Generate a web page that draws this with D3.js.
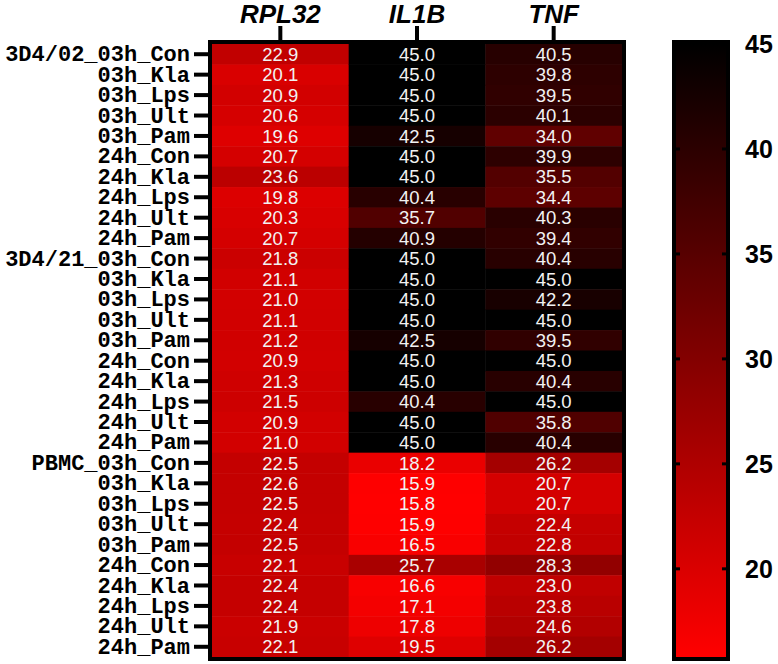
<!DOCTYPE html>
<html>
<head>
<meta charset="utf-8">
<script src="https://cdn.jsdelivr.net/npm/d3@7"></script>
<style>
  body { margin: 0; background: #fff; }
  svg { display: block; }
</style>
</head>
<body>
<svg width="778" height="664"></svg>
<script>
var genes = ["RPL32", "IL1B", "TNF"];

var rowLabels = [
  "3D4/02_03h_Con", "03h_Kla", "03h_Lps", "03h_Ult", "03h_Pam",
  "24h_Con", "24h_Kla", "24h_Lps", "24h_Ult", "24h_Pam",
  "3D4/21_03h_Con", "03h_Kla", "03h_Lps", "03h_Ult", "03h_Pam",
  "24h_Con", "24h_Kla", "24h_Lps", "24h_Ult", "24h_Pam",
  "PBMC_03h_Con", "03h_Kla", "03h_Lps", "03h_Ult", "03h_Pam",
  "24h_Con", "24h_Kla", "24h_Lps", "24h_Ult", "24h_Pam"
];

var rpl32 = [22.9, 20.1, 20.9, 20.6, 19.6, 20.7, 23.6, 19.8, 20.3, 20.7,
             21.8, 21.1, 21.0, 21.1, 21.2, 20.9, 21.3, 21.5, 20.9, 21.0,
             22.5, 22.6, 22.5, 22.4, 22.5, 22.1, 22.4, 22.4, 21.9, 22.1];
var il1b  = [45.0, 45.0, 45.0, 45.0, 42.5, 45.0, 45.0, 40.4, 35.7, 40.9,
             45.0, 45.0, 45.0, 45.0, 42.5, 45.0, 45.0, 40.4, 45.0, 45.0,
             18.2, 15.9, 15.8, 15.9, 16.5, 25.7, 16.6, 17.1, 17.8, 19.5];
var tnf   = [40.5, 39.8, 39.5, 40.1, 34.0, 39.9, 35.5, 34.4, 40.3, 39.4,
             40.4, 45.0, 42.2, 45.0, 39.5, 45.0, 40.4, 45.0, 35.8, 40.4,
             26.2, 20.7, 20.7, 22.4, 22.8, 28.3, 23.0, 23.8, 24.6, 26.2];

var legendTicks = [20, 25, 30, 35, 40, 45];

var series = [rpl32, il1b, tnf];
var cells = [];
series.forEach(function (vals, c) {
  vals.forEach(function (v, r) {
    cells.push({ gene: genes[c], row: r, value: v });
  });
});

var svg = d3.select("svg");

var hmLeft = 212, hmRight = 622, hmTop = 44, hmBottom = 657;

var x = d3.scaleBand().domain(genes).range([hmLeft, hmRight]);
var y = d3.scaleBand().domain(d3.range(rowLabels.length)).range([hmTop, hmBottom]);

var allVals = rpl32.concat(il1b, tnf);
var ext = d3.extent(allVals);

var color = d3.scaleLinear()
  .domain(ext)
  .range(["#ff0000", "#000000"]);

// cells
svg.append("g")
  .selectAll("rect")
  .data(cells)
  .enter()
  .append("rect")
  .attr("x", function (d) { return x(d.gene); })
  .attr("y", function (d) { return y(d.row); })
  .attr("width", x.bandwidth() + 0.5)
  .attr("height", y.bandwidth() + 0.5)
  .attr("fill", function (d) { return color(d.value); });

svg.append("g")
  .selectAll("text")
  .data(cells)
  .enter()
  .append("text")
  .attr("x", function (d) { return x(d.gene) + x.bandwidth() / 2; })
  .attr("y", function (d) { return y(d.row) + y.bandwidth() / 2; })
  .attr("dy", "0.36em")
  .attr("text-anchor", "middle")
  .attr("fill", "#f2f2f2")
  .style("font", "18.5px 'Liberation Sans', Arial, sans-serif")
  .text(function (d) { return d.value.toFixed(1); });

// frame
svg.append("rect")
  .attr("x", hmLeft - 2)
  .attr("y", hmTop - 2)
  .attr("width", hmRight - hmLeft + 4)
  .attr("height", hmBottom - hmTop + 4)
  .attr("fill", "none")
  .attr("stroke", "#000")
  .attr("stroke-width", 4);

// left axis
var yAxis = d3.axisLeft(y)
  .tickSize(14)
  .tickPadding(4)
  .tickFormat(function (i) { return rowLabels[i]; });

var gy = svg.append("g")
  .attr("transform", "translate(" + (hmLeft - 4) + ",0)")
  .call(yAxis);
gy.select(".domain").remove();
gy.selectAll(".tick line").attr("stroke", "#000").attr("stroke-width", 4);
gy.selectAll(".tick text")
  .attr("fill", "#000")
  .style("font", "bold 22px 'Liberation Mono', 'Courier New', monospace");

// top axis
var xAxis = d3.axisTop(x).tickSize(14).tickPadding(3);
var gx = svg.append("g")
  .attr("transform", "translate(0," + (hmTop - 4) + ")")
  .call(xAxis);
gx.select(".domain").remove();
gx.selectAll(".tick line").attr("stroke", "#000").attr("stroke-width", 4);
gx.selectAll(".tick text")
  .attr("fill", "#000")
  .attr("dy", 0)
  .style("font", "italic bold 26px 'Liberation Sans', Arial, sans-serif");

// colour bar
var cbLeft = 676, cbRight = 726;
var cy = d3.scaleLinear().domain(ext).range([hmBottom, hmTop]);

var defs = svg.append("defs");
var grad = defs.append("linearGradient")
  .attr("id", "cbar")
  .attr("x1", 0).attr("x2", 0)
  .attr("y1", 1).attr("y2", 0);
grad.append("stop").attr("offset", "0%").attr("stop-color", color(ext[0]));
grad.append("stop").attr("offset", "100%").attr("stop-color", color(ext[1]));

svg.append("rect")
  .attr("x", cbLeft)
  .attr("y", hmTop)
  .attr("width", cbRight - cbLeft)
  .attr("height", hmBottom - hmTop)
  .attr("fill", "url(#cbar)");

svg.append("rect")
  .attr("x", cbLeft - 2)
  .attr("y", hmTop - 2)
  .attr("width", cbRight - cbLeft + 4)
  .attr("height", hmBottom - hmTop + 4)
  .attr("fill", "none")
  .attr("stroke", "#000")
  .attr("stroke-width", 4);

var cg = svg.append("g");
legendTicks.forEach(function (t) {
  cg.append("line")
    .attr("x1", cbLeft).attr("x2", cbLeft + 4)
    .attr("y1", cy(t)).attr("y2", cy(t))
    .attr("stroke", "#000").attr("stroke-width", 3);
  cg.append("line")
    .attr("x1", cbRight - 4).attr("x2", cbRight)
    .attr("y1", cy(t)).attr("y2", cy(t))
    .attr("stroke", "#000").attr("stroke-width", 3);
  cg.append("text")
    .attr("x", 745)
    .attr("y", cy(t))
    .attr("dy", "0.36em")
    .attr("fill", "#000")
    .style("font", "bold 25px 'Liberation Sans', Arial, sans-serif")
    .text(t);
});
</script>
</body>
</html>
